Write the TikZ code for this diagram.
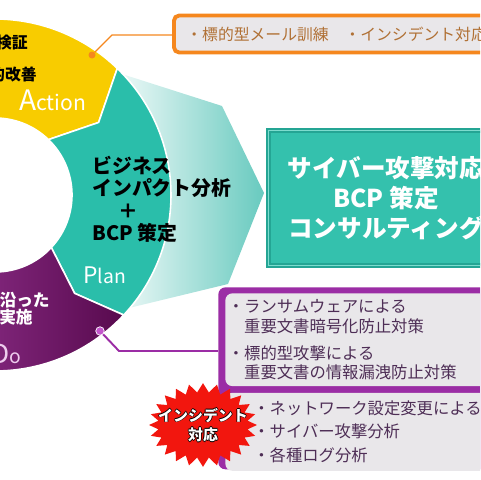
\documentclass[tikz,border=0pt]{standalone}
\usepackage{fontspec}
\setmainfont{Noto Sans CJK JP}
\usetikzlibrary{positioning, calc, shapes.symbols}

\definecolor{ringYellow}{RGB}{248,204,0}
\definecolor{ringTeal}{RGB}{42,190,170}
\definecolor{ringPurple}{RGB}{178,72,178}
\definecolor{ringPurpleDark}{RGB}{88,10,78}
\definecolor{arrowMid}{RGB}{196,234,229}
\definecolor{arrowTeal}{RGB}{104,202,191}
\definecolor{boxTeal}{RGB}{52,193,173}
\definecolor{boxTealEdge}{RGB}{36,165,148}
\definecolor{boxTealLight}{RGB}{125,220,206}
\definecolor{lineOrange}{RGB}{245,135,30}
\definecolor{textOrange}{RGB}{176,112,52}
\definecolor{framePurple}{RGB}{155,45,165}
\definecolor{dotPurple}{RGB}{196,86,204}
\definecolor{paneGray}{RGB}{233,231,234}
\definecolor{textPurple}{RGB}{78,46,86}
\definecolor{burstRed}{RGB}{242,22,14}
\definecolor{doPink}{RGB}{238,205,238}

\newcommand{\fsz}[2]{\fontsize{#1}{#2}\selectfont}
\newcommand{\burstword}[1]{%
  \makebox[0pt][l]{\kern-0.45pt\textcolor{black}{#1}}%
  \makebox[0pt][l]{\kern0.45pt\textcolor{black}{#1}}%
  \makebox[0pt][l]{\raisebox{0.45pt}{\textcolor{black}{#1}}}%
  \makebox[0pt][l]{\raisebox{-0.45pt}{\textcolor{black}{#1}}}%
  \textcolor{white}{#1}}

\begin{document}
\begin{tikzpicture}[
  x=0.02cm, y=-0.02cm,
  font=\fsz{9pt}{11pt},
  node distance=0.12cm
]
% -------------------- Styles --------------------
\tikzset{
  seg/.style={draw=white, line width=0.9pt},
  ringtext/.style={inner sep=0pt, font=\bfseries\fsz{9pt}{11pt}},
  pdca/.style={inner sep=0pt, text=white, anchor=base west},
  odot/.style={circle, fill=lineOrange, inner sep=0pt, minimum size=0.14cm},
  pdot/.style={circle, fill=dotPurple, draw=white, line width=0.4pt,
    inner sep=0pt, minimum size=0.17cm},
  oline/.style={draw=lineOrange, line width=0.8pt},
  pline/.style={draw=framePurple, line width=1.1pt},
  drill/.style={
    draw=lineOrange, line width=2.2pt, fill=paneGray, rounded corners=3pt,
    anchor=west, minimum width=7cm, minimum height=0.74cm,
    text width=6.5cm, inner xsep=0.25cm, align=left, text=textOrange
  },
  consult/.style={
    fill=boxTeal, draw=boxTealEdge, double=boxTealLight, double distance=1pt,
    line width=0.8pt, minimum width=4.7cm, minimum height=2.7cm,
    align=center, text=white, font=\bfseries\fsz{14pt}{17pt}
  },
  measframe/.style={
    fill=framePurple, rounded corners=4pt, anchor=north west,
    minimum width=6cm, minimum height=3.64cm
  },
  pane/.style={
    fill=paneGray, rounded corners=4pt, anchor=north west,
    minimum width=5.9cm, align=left, text=textPurple,
    font=\fsz{9.3pt}{11.3pt}
  },
  alert/.style={
    starburst, fill=burstRed, starburst points=24,
    starburst point height=0.18cm, random starburst=0,
    inner xsep=-0.26cm, inner ysep=0.11cm,
    align=center, font=\bfseries\fsz{8.5pt}{11pt}
  }
}

\useasboundingbox (0,0) rectangle (480,480);
\clip (0,0) rectangle (480,480);

% -------------------- Big arrow behind the ring --------------------
\shade[left color=white, middle color=arrowMid, right color=arrowTeal]
  (100,67) -- (222,106) -- (264,193) -- (228,284) -- (100,315) -- cycle;

% -------------------- PDCA ring --------------------
\coordinate (C) at (-5,195);
\def\Ro{176}
\def\Ri{77}
\def\Rm{126.5}

% Action
\path[seg, fill=ringYellow]
  ($(C)+(-180:\Ro)$) arc[start angle=-180, end angle=-46, radius=\Ro]
  -- ($(C)+(-35:\Rm)$) -- ($(C)+(-46:\Ri)$)
  arc[start angle=-46, end angle=-180, radius=\Ri] -- cycle;
% Plan
\path[seg, fill=ringTeal]
  ($(C)+(-46:\Ro)$) arc[start angle=-46, end angle=43, radius=\Ro]
  -- ($(C)+(51:\Rm)$) -- ($(C)+(43:\Ri)$)
  arc[start angle=43, end angle=-46, radius=\Ri]
  -- ($(C)+(-35:\Rm)$) -- cycle;
% Do
\path[seg, left color=ringPurple, right color=ringPurpleDark]
  ($(C)+(43:\Ro)$) arc[start angle=43, end angle=180, radius=\Ro]
  -- ($(C)+(180:\Ri)$) arc[start angle=180, end angle=43, radius=\Ri]
  -- ($(C)+(51:\Rm)$) -- cycle;

% ring texts
\node[ringtext, anchor=east] (verify) at (28,43) {検証};
\node[ringtext, anchor=east] (improve) at (37,75) {的改善};
\node[pdca] (act) at (19,110) {{\fsz{16pt}{16pt}A}{\fsz{12pt}{12pt}ction}};

\node[ringtext, font=\bfseries\fsz{11.3pt}{12.7pt}, align=left,
      anchor=north west] (bia) at (92,156) {
  ビジネス\\
  インパクト分析\\
  \hspace*{1.3em}＋\\
  BCP 策定
};
\node[pdca] (plan) at (83,283) {{\fsz{13pt}{13pt}P}{\fsz{11pt}{11pt}lan}};

\node[ringtext, text=white, anchor=east, font=\bfseries\fsz{9.5pt}{11pt}]
  (along) at (50,300) {沿った};
\node[ringtext, text=white, anchor=east, font=\bfseries\fsz{9.5pt}{11pt}]
  (execute) at (33,317) {実施};
\node[pdca, text=doPink] (doo) at (-9,363) {{\fsz{15pt}{15pt}D}{\fsz{11pt}{11pt}o}};

% -------------------- Consulting box --------------------
\node[consult] (consulting) at (386,198) {
  サイバー攻撃対応\\
  BCP 策定\\
  コンサルティング
};

% -------------------- Training box (top) --------------------
\node[drill] (drills) at (172,34) {・標的型メール訓練　・インシデント対応};

\node[odot] (adot) at (92,55) {};
\coordinate (abend) at ($(adot)+(20,-20)$);
\draw[oline] (adot) -- (abend) -- (abend -| drills.west);

% -------------------- Measures box (bottom) --------------------
\node[measframe] (measures) at (218,287) {};

\node[pane, minimum height=1.74cm, text width=5.8cm, inner xsep=0.02cm]
  (risks) at (225,293) {
  ・ランサムウェアによる\\
  \hspace*{1em}重要文書暗号化防止対策\\[4pt]
  ・標的型攻撃による\\
  \hspace*{1em}重要文書の情報漏洩防止対策
};

\node[pane, minimum height=1.56cm, text width=4.78cm, inner xsep=0.56cm,
      font=\fsz{9.3pt}{13.4pt}, below=of risks.south west, anchor=north west]
  (response) {
  ・ネットワーク設定変更による\\
  ・サイバー攻撃分析\\
  ・各種ログ分析
};

\node[alert] (incident) at (203,425) {\burstword{インシデント}\\\burstword{対応}};

\node[pdot] (ddot) at (100,331) {};
\coordinate (dbend) at ($(ddot)+(19,20)$);
\draw[pline] (ddot) -- (dbend) -- (dbend -| measures.west);

\end{tikzpicture}
\end{document}
